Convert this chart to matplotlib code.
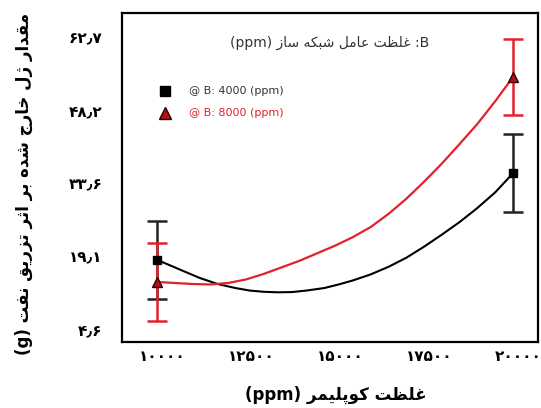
import matplotlib
matplotlib.use('Agg')
import matplotlib.pyplot as plt
import matplotlib.transforms as mtransforms

# copolymer concentration (ppm) and gel produced after oil injection (g)
conc = [10000, 20000]
gel_4000 = [18.5, 35.7]
err_4000 = [7.7, 7.7]
gel_8000 = [14.1, 54.8]
err_8000 = [7.8, 7.6]

# trend curves through the two series
fit_x_4000 = [10000, 10400, 10730, 11200, 11700, 12200, 12600, 13000, 13400, 13800, 14200, 14700,
              15100, 15500, 16000, 16500, 17000, 17500, 18000, 18500, 19000, 19500, 20000]
fit_y_4000 = [18.5, 17.3, 16.3, 14.9, 13.7, 12.9, 12.4, 12.15, 12.05, 12.1, 12.4, 12.9,
              13.6, 14.4, 15.6, 17.1, 18.9, 21.1, 23.5, 26.0, 28.8, 31.9, 35.7]
fit_x_8000 = [10000, 10500, 11000, 11500, 12000, 12500, 13000, 13500, 14000, 14500, 15000,
              15500, 16000, 16500, 17000, 17500, 18000, 18500, 19000, 19500, 20000]
fit_y_8000 = [14.1, 13.9, 13.7, 13.6, 13.9, 14.6, 15.7, 17.0, 18.3, 19.8, 21.3,
              23.0, 25.0, 27.6, 30.6, 34.0, 37.6, 41.5, 45.5, 50.0, 54.8]

xticks = [10000, 12500, 15000, 17500, 20000]
xtick_labels = ['۱۰۰۰۰', '۱۲۵۰۰', '۱۵۰۰۰', '۱۷۵۰۰', '۲۰۰۰۰']
yticks = [4.6, 19.1, 33.6, 48.2, 62.7]
ytick_labels = ['۴٫۶', '۱۹٫۱', '۳۳٫۶', '۴۸٫۲', '۶۲٫۷']

series_labels = ['@ B: 4000 (ppm)', '@ B: 8000 (ppm)']

# matplotlib does no arabic shaping, so pick presentation forms by hand
DUAL = {'ب': 0xFE8F, 'ت': 0xFE95, 'ث': 0xFE99, 'ج': 0xFE9D, 'ح': 0xFEA1,
        'خ': 0xFEA5, 'س': 0xFEB1, 'ش': 0xFEB5, 'ص': 0xFEB9, 'ض': 0xFEBD,
        'ط': 0xFEC1, 'ظ': 0xFEC5, 'ع': 0xFEC9, 'غ': 0xFECD, 'ف': 0xFED1,
        'ق': 0xFED5, 'ل': 0xFEDD, 'م': 0xFEE1, 'ن': 0xFEE5, 'ه': 0xFEE9,
        'ی': 0xFBFC, 'ک': 0xFB8E, 'گ': 0xFB92, 'پ': 0xFB56, 'چ': 0xFB7A}
RIGHT = {'ا': 0xFE8D, 'د': 0xFEA9, 'ذ': 0xFEAB, 'ر': 0xFEAD, 'ز': 0xFEAF,
         'ژ': 0xFB8A, 'و': 0xFEED, 'آ': 0xFE81}


def shape(text):
    out = []
    for i, ch in enumerate(text):
        prev = text[i - 1] if i > 0 else ''
        nxt = text[i + 1] if i + 1 < len(text) else ''
        joins_prev = prev in DUAL and (ch in DUAL or ch in RIGHT)
        if ch in DUAL:
            joins_next = nxt in DUAL or nxt in RIGHT
            base = DUAL[ch]
            if joins_prev and joins_next:
                out.append(chr(base + 3))
            elif joins_next:
                out.append(chr(base + 2))
            elif joins_prev:
                out.append(chr(base + 1))
            else:
                out.append(chr(base))
        elif ch in RIGHT:
            out.append(chr(RIGHT[ch] + (1 if joins_prev else 0)))
        else:
            out.append(ch)
    return ''.join(out)


def rtl(text):
    return shape(text)[::-1]


fig = plt.figure(figsize=(5.41, 4.08), dpi=100)
ax = fig.add_axes([0.2255, 0.162, 0.769, 0.806])

red = '#e3202c'
ax.plot(fit_x_4000, fit_y_4000, color='black', lw=1.5, zorder=2)
ax.plot(fit_x_8000, fit_y_8000, color=red, lw=1.6, zorder=2)
ax.errorbar(conc, gel_4000, yerr=err_4000, fmt='s', color='#222222', ms=6,
            mfc='black', mec='black', elinewidth=1.8, capsize=7, capthick=1.8, zorder=3)
ax.errorbar(conc, gel_8000, yerr=err_8000, fmt='^', color=red, ms=7,
            mfc='#b01018', mec='#300000', elinewidth=1.8, capsize=7, capthick=1.8, zorder=3)

ax.set_xlim(9017, 20702)
ax.set_ylim(2.2, 67.5)
ax.set_xticks(xticks)
ax.set_xticklabels(xtick_labels, fontsize=11, fontweight='bold')
ax.set_yticks(yticks)
ax.set_yticklabels(ytick_labels, fontsize=11, fontweight='bold')
ax.tick_params(axis='both', length=0)
ax.tick_params(axis='x', pad=5)
ax.tick_params(axis='y', pad=14)
shift = mtransforms.ScaledTranslation(5 / 100, 0, fig.dpi_scale_trans)
for lbl in ax.get_xticklabels():
    lbl.set_transform(lbl.get_transform() + shift)
for sp in ax.spines.values():
    sp.set_linewidth(1.6)

# legend drawn as plain text with marker glyphs
ax.plot([10225], [52.0], 's', color='black', ms=7)
ax.plot([10225], [47.6], '^', ms=8, mfc='#b01018', mec='#300000')
ax.text(10900, 52.0, series_labels[0], fontsize=8, color='#333333', va='center')
ax.text(10900, 47.6, series_labels[1], fontsize=8, color=red, va='center')

ax.text(0.5, 0.91, '(ppm) ' + rtl('غلظت عامل شبکه ساز') + ' :B',
        transform=ax.transAxes, ha='center', va='center', fontsize=10, color='#333333')

fig.text(0.62, 0.032, '(ppm) ' + rtl('غلظت کوپلیمر'), ha='center', va='center',
         fontsize=12, fontweight='bold')
fig.text(0.045, 0.55, '(g) ' + rtl('مقدار ژل خارج شده بر اثر تزریق نفت'),
         rotation=90, ha='center', va='center', fontsize=12, fontweight='bold')

fig.savefig('out.png', dpi=100)
